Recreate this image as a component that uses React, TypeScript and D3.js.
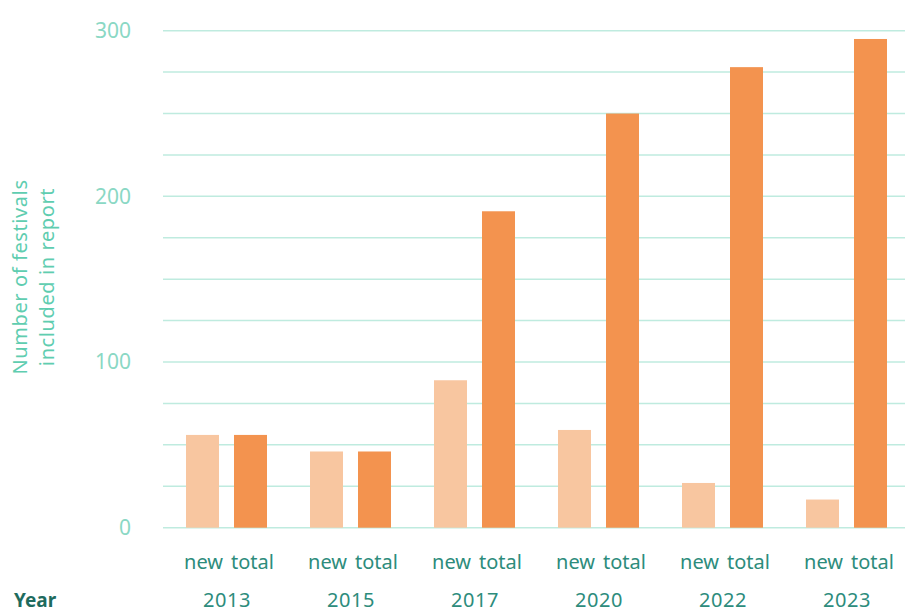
import React from "react";
import * as d3 from "d3";

const years = ["2013", "2015", "2017", "2020", "2022", "2023"];
const seriesKeys = ["new", "total"];
const newValues = [56, 46, 89, 59, 27, 17];
const totalValues = [56, 46, 191, 250, 278, 295];
const yTicks = [0, 100, 200, 300];
const gridTicks = [0, 25, 50, 75, 100, 125, 150, 175, 200, 225, 250, 275, 300];

const W = 909;
const H = 613;

export default function App() {
  const x = d3.scaleBand<string>().domain(years).range([163, 907]).padding(0);
  const xi = d3.scaleBand<string>().domain(seriesKeys).range([23, 104]).paddingInner(0.3125).paddingOuter(0);
  const y = d3.scaleLinear().domain([0, 300]).range([527.7, 30.7]);
  const colors: Record<string, string> = { new: "#F8C6A0", total: "#F3934F" };
  const font = "'Noto Sans', sans-serif";

  return (
    <svg width={W} height={H} style={{ position: "absolute", left: 0, top: 0, background: "#fff" }}>
      <g>
        {gridTicks.map((t) => (
          <line key={t} x1={163} x2={905} y1={y(t)} y2={y(t)} stroke="#BFEBDF" strokeWidth={1.5} />
        ))}
      </g>
      <g>
        {yTicks.map((t) => (
          <text key={t} x={131} y={y(t)} dy="0.35em" textAnchor="end" fontFamily={font} fontSize={21} fill="#8AD8C4">
            {t}
          </text>
        ))}
      </g>
      <text transform="translate(27,277) rotate(-90)" textAnchor="middle" fontFamily={font} fontSize={20} letterSpacing={0.6} fill="#5FCDB0">
        Number of festivals
      </text>
      <text transform="translate(54,277) rotate(-90)" textAnchor="middle" fontFamily={font} fontSize={20} letterSpacing={0.6} fill="#5FCDB0">
        included in report
      </text>
      <g>
        {years.map((yr, i) => {
          const gx = x(yr)!;
          const vals = [newValues[i], totalValues[i]];
          return (
            <g key={yr} transform={`translate(${gx},0)`}>
              {seriesKeys.map((k, j) => (
                <rect
                  key={k}
                  x={xi(k)!}
                  width={xi.bandwidth()}
                  y={y(vals[j])}
                  height={y(0) - y(vals[j])}
                  fill={colors[k]}
                />
              ))}
              {seriesKeys.map((k) => (
                <text
                  key={k + "l"}
                  x={xi(k)! + xi.bandwidth() / 2 + (k === "total" ? 2 : 1)}
                  y={569}
                  textAnchor="middle"
                  fontFamily={font}
                  fontSize={20}
                  fill="#2D8C7C"
                >
                  {k}
                </text>
              ))}
              <text x={x.bandwidth() / 2 + 2} y={607} textAnchor="middle" fontFamily={font} fontSize={20} letterSpacing={0.5} fill="#2D8C7C">
                {yr}
              </text>
            </g>
          );
        })}
      </g>
      <text x={14} y={607} fontFamily={font} fontSize={19} fontWeight="bold" fill="#1E6B5E">
        Year
      </text>
    </svg>
  );
}
